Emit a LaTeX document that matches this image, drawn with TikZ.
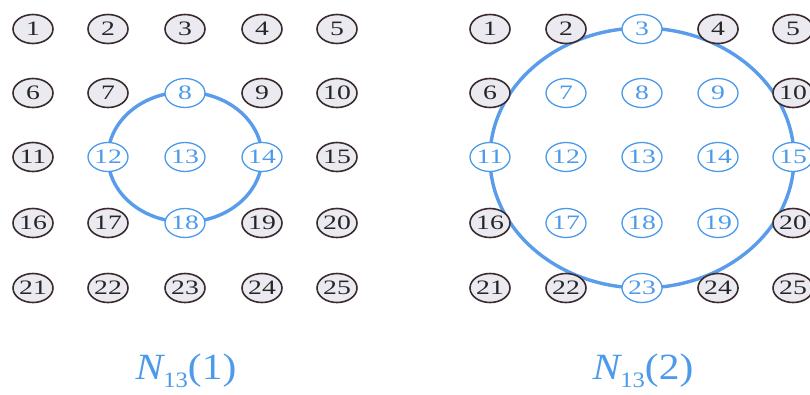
\documentclass[tikz,border=0pt]{standalone}
\usepackage{fontspec}
\setmainfont{Liberation Serif}
\usetikzlibrary{shapes.geometric}
\definecolor{nodeblue}{HTML}{4C9AEA}
\definecolor{ringblue}{HTML}{5A9CEC}
\definecolor{grayfill}{HTML}{ECEAF1}
\definecolor{darkline}{HTML}{3A2C2E}
\newcommand{\numtxt}[1]{\scalebox{1.35}[1]{\fontsize{20.5}{20.5}\selectfont #1}}
\newcommand{\labtxt}[1]{\scalebox{1.12}[1]{\fontsize{37}{37}\selectfont\itshape N\upshape\raisebox{-0.2em}{\fontsize{22}{22}\selectfont 13}(#1)}}
\tikzset{
  graynode/.style={ellipse, draw=darkline, line width=1.6pt, fill=grayfill, minimum width=40pt, minimum height=29pt, inner sep=0pt, text=black!85},
  bluenode/.style={ellipse, draw=nodeblue, line width=1.3pt, fill=white, minimum width=40pt, minimum height=29pt, inner sep=0pt, text=nodeblue},
  ring/.style={draw=ringblue, line width=3.4pt},
  labelnode/.style={text=nodeblue, inner sep=0pt}
}
\begin{document}
\begin{tikzpicture}[x=1pt,y=-1pt]
\useasboundingbox (0,0) rectangle (810,394);
\fill[white] (0,0) rectangle (810,394);
\coordinate (c1) at (185,157);
\coordinate (c2) at (642,158);
\draw[ring] (c1) ellipse [x radius=77, y radius=65];
\draw[ring] (c2) ellipse [x radius=152, y radius=130];
% left grid
\foreach \n/\x/\y/\s in {
 1/33/29/graynode, 2/108/29/graynode, 3/185/29/graynode, 4/262/29/graynode, 5/337/29/graynode,
 6/33/93/graynode, 7/108/93/graynode, 8/185/93/bluenode, 9/262/93/graynode, 10/337/93/graynode,
 11/33/157/graynode, 12/108/157/bluenode, 13/185/157/bluenode, 14/262/157/bluenode, 15/337/157/graynode,
 16/33/223/graynode, 17/108/223/graynode, 18/185/223/bluenode, 19/262/223/graynode, 20/337/223/graynode,
 21/33/288/graynode, 22/108/288/graynode, 23/185/288/graynode, 24/262/288/graynode, 25/337/288/graynode}
 {\node[\s] (l\n) at (\x,\y) {\numtxt{\n}};}
% right grid
\foreach \n/\x/\y/\s in {
 1/490/29/graynode, 2/566/29/graynode, 3/642/29/bluenode, 4/718/29/graynode, 5/793/29/graynode,
 6/490/93/graynode, 7/566/93/bluenode, 8/642/93/bluenode, 9/718/93/bluenode, 10/793/93/graynode,
 11/490/157/bluenode, 12/566/157/bluenode, 13/642/157/bluenode, 14/718/157/bluenode, 15/793/157/bluenode,
 16/490/223/graynode, 17/566/223/bluenode, 18/642/223/bluenode, 19/718/223/bluenode, 20/793/223/graynode,
 21/490/288/graynode, 22/566/288/graynode, 23/642/288/bluenode, 24/718/288/graynode, 25/793/288/graynode}
 {\node[\s] (r\n) at (\x,\y) {\numtxt{\n}};}
\node[labelnode] (lab1) at (186,371) {\labtxt{1}};
\node[labelnode] (lab2) at (643,371) {\labtxt{2}};
\end{tikzpicture}
\end{document}
